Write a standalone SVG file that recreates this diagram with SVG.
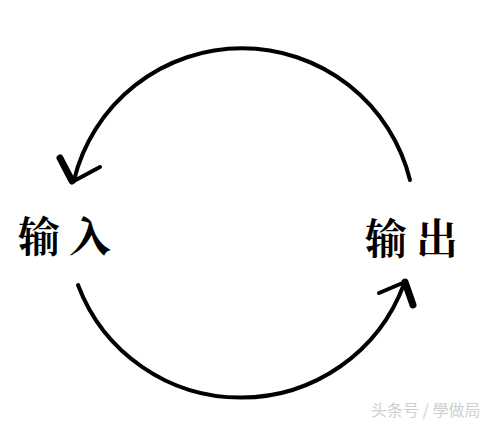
<svg xmlns="http://www.w3.org/2000/svg" width="494" height="425" viewBox="0 0 494 425">
<style>
.arc{fill:none;stroke:#000;stroke-width:4;stroke-linecap:round}
.head{fill:none;stroke:#000;stroke-linecap:round;stroke-linejoin:round}
.lbl{font-family:"Noto Serif CJK SC","Noto Sans CJK SC",serif;font-weight:bold;font-size:42px;fill:#000}
.wm{font-family:"Noto Sans CJK SC",sans-serif;font-size:16px;fill:#cfcfcf}
</style>
<rect width="494" height="425" fill="#fff"/>
<g id="connectors">
<path class="arc" d="M 410 180 A 173 173 0 0 0 74 180"/>
<path class="head" stroke-width="4" d="M 72 182 L 100 167"/>
<path class="head" stroke-width="7" d="M 60 158 L 72 181"/>
<path class="arc" d="M 78 285 A 174 174 0 0 0 404 284"/>
<path class="head" stroke-width="4" d="M 379 293 L 405 282"/>
<path class="head" stroke-width="7" d="M 405 282 L 413 305"/>
</g>
<g id="input"><text class="lbl" x="18" y="252" letter-spacing="9">输入</text></g>
<g id="output"><text class="lbl" x="365" y="254" letter-spacing="9">输出</text></g>
<text class="wm" x="371" y="416">头条号 / 學做局</text>
</svg>
